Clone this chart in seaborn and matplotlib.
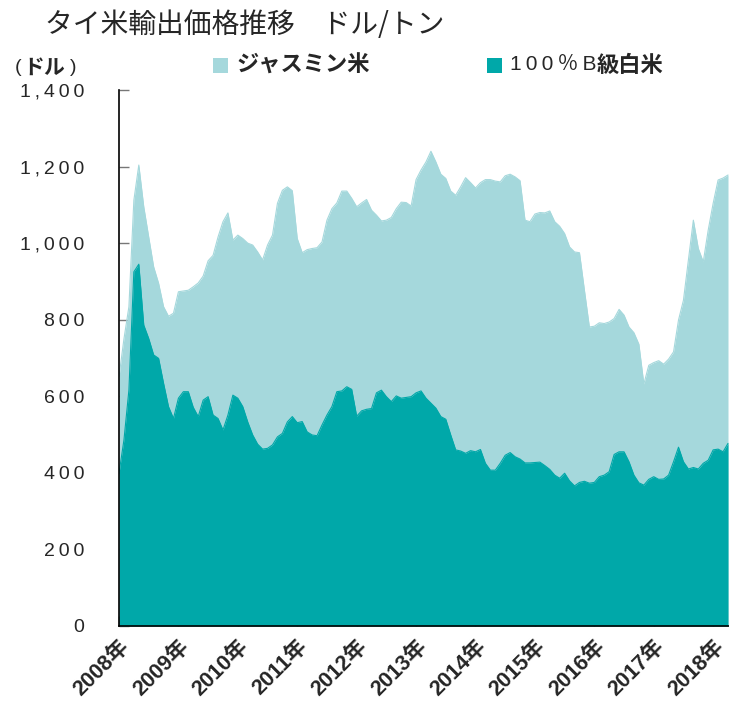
import numpy as np
import pandas as pd
import matplotlib
matplotlib.use('Agg')
import matplotlib.pyplot as plt
from matplotlib.patches import Rectangle
import seaborn as sns

# monthly prices, Jan 2008 - Apr 2018 (USD / ton)
jasmine = [651, 750, 834, 1112, 1204, 1095, 1016, 938, 895, 834, 809, 817,
           873, 875, 877, 886, 896, 914, 954, 968, 1016, 1056, 1079, 1008,
           1021, 1012, 1000, 995, 977, 956, 995, 1021, 1104, 1138, 1147, 1137,
           1012, 975, 983, 986, 988, 1003, 1060, 1090, 1105, 1136, 1136, 1117,
           1095, 1105, 1114, 1086, 1073, 1058, 1060, 1067, 1090, 1107, 1106, 1097,
           1166, 1191, 1212, 1240, 1212, 1180, 1169, 1136, 1125, 1147, 1171, 1158,
           1144, 1158, 1166, 1166, 1162, 1160, 1176, 1180, 1173, 1163, 1060, 1056,
           1076, 1080, 1079, 1084, 1056, 1044, 1025, 990, 977, 975, 877, 781,
           783, 792, 790, 794, 803, 827, 812, 781, 766, 736, 632, 681,
           688, 693, 684, 697, 716, 799, 851, 956, 1060, 986, 951, 1034,
           1104, 1165, 1170, 1178]
white100b = [399, 486, 616, 925, 945, 786, 751, 708, 699, 634, 573, 542,
             595, 612, 612, 571, 547, 590, 599, 551, 542, 512, 551, 603,
             595, 573, 533, 499, 475, 462, 464, 473, 494, 503, 533, 547,
             531, 534, 507, 499, 497, 525, 551, 573, 612, 614, 625, 618,
             548, 562, 566, 568, 609, 616, 599, 586, 601, 595, 597, 599,
             609, 614, 595, 582, 569, 547, 540, 499, 460, 457, 451, 458,
             455, 461, 425, 407, 407, 425, 446, 453, 442, 436, 426, 426,
             427, 428, 419, 409, 394, 386, 399, 379, 366, 375, 378, 373,
             375, 390, 394, 403, 448, 455, 455, 429, 394, 374, 368, 383,
             390, 383, 384, 394, 429, 467, 429, 410, 414, 410, 425, 433,
             460, 462, 455, 477]
years = ['2008年', '2009年', '2010年', '2011年', '2012年', '2013年',
         '2014年', '2015年', '2016年', '2017年', '2018年']
yticks = [0, 200, 400, 600, 800, 1000, 1200, 1400]

c_light = '#A5D8DC'
c_dark = '#00A8A9'

df = pd.DataFrame({'month': np.arange(len(jasmine)),
                   'jasmine': jasmine, 'white': white100b})

sns.set_style('ticks')
plt.rcParams['font.family'] = ['Liberation Sans', 'Noto Sans CJK JP', 'DejaVu Sans']
jp = ['Noto Sans CJK JP', 'DejaVu Sans']

fig = plt.figure(figsize=(7.29, 7.05), dpi=100)
ax = fig.add_axes([119 / 729, 79 / 705, 610 / 729, 536 / 705])

# jasmine behind, white rice in front
sns.lineplot(data=df, x='month', y='jasmine', color=c_light, lw=0.8, ax=ax)
ax.fill_between(df['month'], df['jasmine'], color=c_light, lw=0)
sns.lineplot(data=df, x='month', y='white', color=c_dark, lw=0.8, ax=ax)
ax.fill_between(df['month'], df['white'], color=c_dark, lw=0)

ax.set_xlim(0, 123.2)
ax.set_ylim(0, 1400)
ax.set_xlabel('')
ax.set_ylabel('')

# spaced-out digits like the original
ax.set_yticks(yticks)
ax.set_yticklabels(['\u2009'.join(f'{v:,}') for v in yticks], fontsize=14)
ax.set_xticks(np.arange(len(years)) * 12)
ax.set_xticklabels(years, rotation=45, ha='right', rotation_mode='anchor',
                   fontsize=15.5, fontweight='bold')

ax.tick_params(axis='y', direction='in', length=7, width=1, color='#777777', pad=25)
ax.tick_params(axis='x', direction='in', length=7, width=1, color='#333333', pad=7)
sns.despine(ax=ax)
for s in ['left', 'bottom']:
    ax.spines[s].set_linewidth(1.2)
    ax.spines[s].set_color('black')
ax.set_zorder(1)

# title and unit
fig.text(45 / 729, 1 - 25 / 705, 'タイ米輸出価格推移　ドル/トン', fontsize=20,
         family=jp, va='center', ha='left')
fig.text(15 / 729, 1 - 68 / 705, '(', fontsize=14, va='center', ha='left')
fig.text(23 / 729, 1 - 67 / 705, 'ドル', fontsize=15, family=jp,
         fontweight='bold', va='center', ha='left')
fig.text(70 / 729, 1 - 68 / 705, ')', fontsize=14, va='center', ha='left')

# legend
fig.patches.append(Rectangle((213 / 729, 1 - 73 / 705), 15 / 729, 15 / 705,
                             transform=fig.transFigure, color=c_light, lw=0))
fig.text(236 / 729, 1 - 65 / 705, 'ジャスミン米', fontsize=16, family=jp,
         fontweight='bold', va='center', ha='left')
fig.patches.append(Rectangle((487 / 729, 1 - 73 / 705), 15 / 729, 15 / 705,
                             transform=fig.transFigure, color=c_dark, lw=0))
fig.text(510 / 729, 1 - 65 / 705, '1\u20090\u20090\u2009％\u2009B', fontsize=15,
         family=['Liberation Sans', 'Noto Sans CJK JP', 'DejaVu Sans'],
         va='center', ha='left')
fig.text(597 / 729, 1 - 65 / 705, '級白米', fontsize=16, family=jp,
         fontweight='bold', va='center', ha='left')

fig.savefig('out.png', dpi=100)
